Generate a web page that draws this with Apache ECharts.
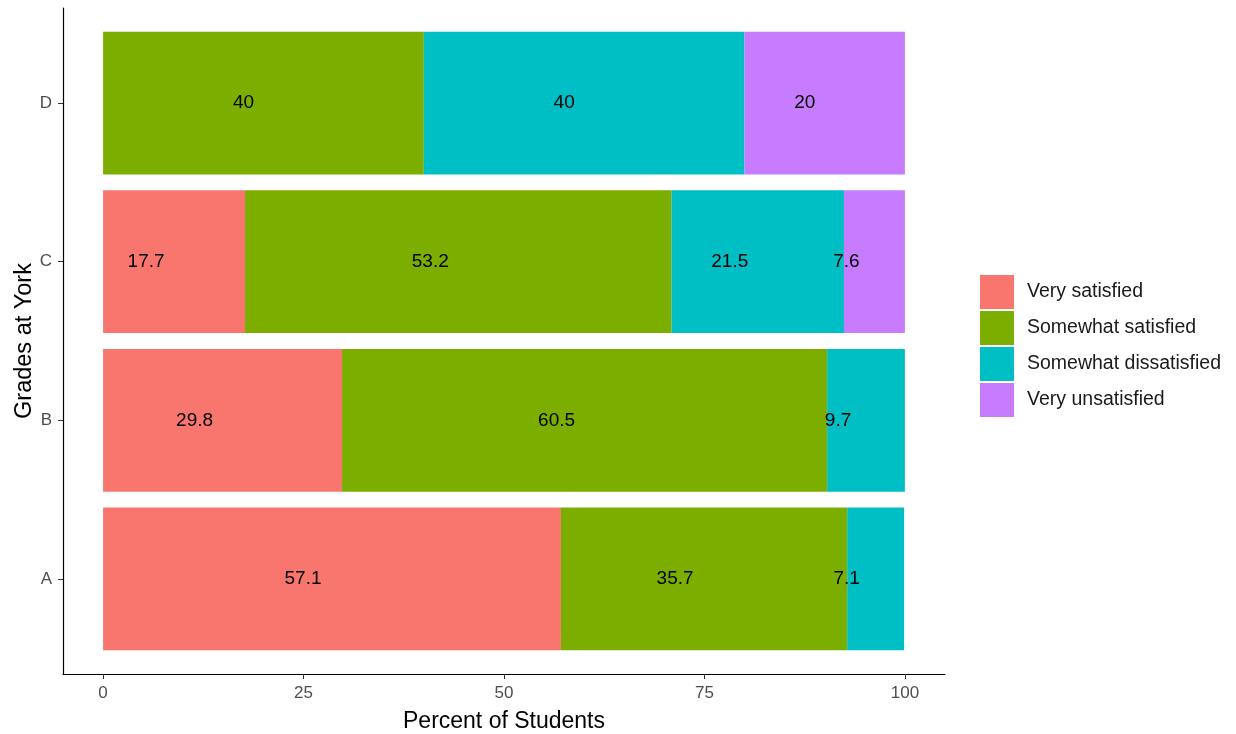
<!DOCTYPE html>
<html>
<head>
<meta charset="utf-8">
<script src="https://cdn.jsdelivr.net/npm/echarts@6/dist/echarts.min.js"></script>
<style>html,body{margin:0;padding:0;background:#fff}#c{width:1236px;height:734px}</style>
</head>
<body>
<div id="c"></div>
<script>
const categories = ['A', 'B', 'C', 'D'];
const seriesNames = ['Very satisfied', 'Somewhat satisfied', 'Somewhat dissatisfied', 'Very unsatisfied'];
const verySatisfied = [57.1, 29.8, 17.7, 0];
const somewhatSatisfied = [35.7, 60.5, 53.2, 40];
const somewhatDissatisfied = [7.1, 9.7, 21.5, 40];
const veryUnsatisfied = [0, 0, 7.6, 20];
const xTicks = [0, 25, 50, 75, 100];
const colors = ['#F8766D', '#7CAE00', '#00BFC4', '#C77CFF'];

const values = [verySatisfied, somewhatSatisfied, somewhatDissatisfied, veryUnsatisfied];
const FONT = 'Liberation Sans, Arial, sans-serif';
// horizontal nudge of the value labels (style only), per category row
const labelNudge = [-29, -28, -28, -20];

// plot panel geometry (ggplot style expansion)
const panelTop = 8, panelBottom = 60, H = 734;
const panelH = H - panelTop - panelBottom;
const unit = panelH / 4.2;
const barTop = panelTop + 0.1 * unit;
const barBottom = panelBottom + 0.1 * unit;

const chart = echarts.init(document.getElementById('c'));
chart.setOption({
  animation: false,
  backgroundColor: '#fff',
  textStyle: { fontFamily: FONT },
  grid: [
    { left: 63, right: 291, top: panelTop, bottom: panelBottom, containLabel: false, outerBoundsMode: 'none' },
    { left: 63, right: 291, top: barTop, bottom: barBottom, containLabel: false, outerBoundsMode: 'none' }
  ],
  legend: {
    orient: 'vertical',
    left: 975,
    top: 270,
    itemWidth: 34,
    itemHeight: 34,
    itemGap: 2,
    icon: 'rect',
    data: seriesNames,
    textStyle: { fontSize: 19.5, color: '#1a1a1a', fontFamily: FONT, padding: [8, 0, 0, 8] }
  },
  xAxis: [
    {
      gridIndex: 0, type: 'value', min: -5, max: 105,
      axisLine: { show: true, onZero: false, lineStyle: { color: '#000', width: 1.2 } },
      axisTick: { show: true, customValues: xTicks, length: 5, lineStyle: { color: '#333' } },
      axisLabel: { customValues: xTicks, fontSize: 17, color: '#4d4d4d', margin: 11, fontFamily: FONT },
      splitLine: { show: false },
      name: 'Percent of Students', nameLocation: 'middle', nameGap: 36, nameMoveOverlap: false,
      nameTextStyle: { fontSize: 23, color: '#000', fontFamily: FONT }
    },
    {
      gridIndex: 1, type: 'value', min: -5, max: 105, show: false
    }
  ],
  yAxis: [
    {
      gridIndex: 0, type: 'value', min: 0.4, max: 4.6,
      axisLine: { show: true, onZero: false, lineStyle: { color: '#000', width: 1.2 } },
      axisTick: { show: true, customValues: [1, 2, 3, 4], length: 5, lineStyle: { color: '#333' } },
      axisLabel: {
        customValues: [1, 2, 3, 4], fontSize: 17, color: '#4d4d4d', margin: 11, fontFamily: FONT,
        formatter: v => categories[Math.round(v) - 1]
      },
      splitLine: { show: false },
      name: 'Grades at York', nameLocation: 'middle', nameGap: 26, nameRotate: 90, nameMoveOverlap: false,
      nameTextStyle: { fontSize: 23.5, color: '#000', fontFamily: FONT }
    },
    {
      gridIndex: 1, type: 'category', data: categories, show: false
    }
  ],
  series: seriesNames.map((name, i) => ({
    name,
    type: 'bar',
    stack: 'total',
    xAxisIndex: 1,
    yAxisIndex: 1,
    barCategoryGap: '10%',
    itemStyle: { color: colors[i] },
    label: {
      show: true,
      position: 'inside',
      fontSize: 19,
      color: '#000',
      fontFamily: FONT,
      formatter: p => (p.value ? String(p.value) : '')
    },
    data: values[i].map((v, j) => ({ value: v, label: { offset: [labelNudge[j], 0] } }))
  }))
});
</script>
</body>
</html>
